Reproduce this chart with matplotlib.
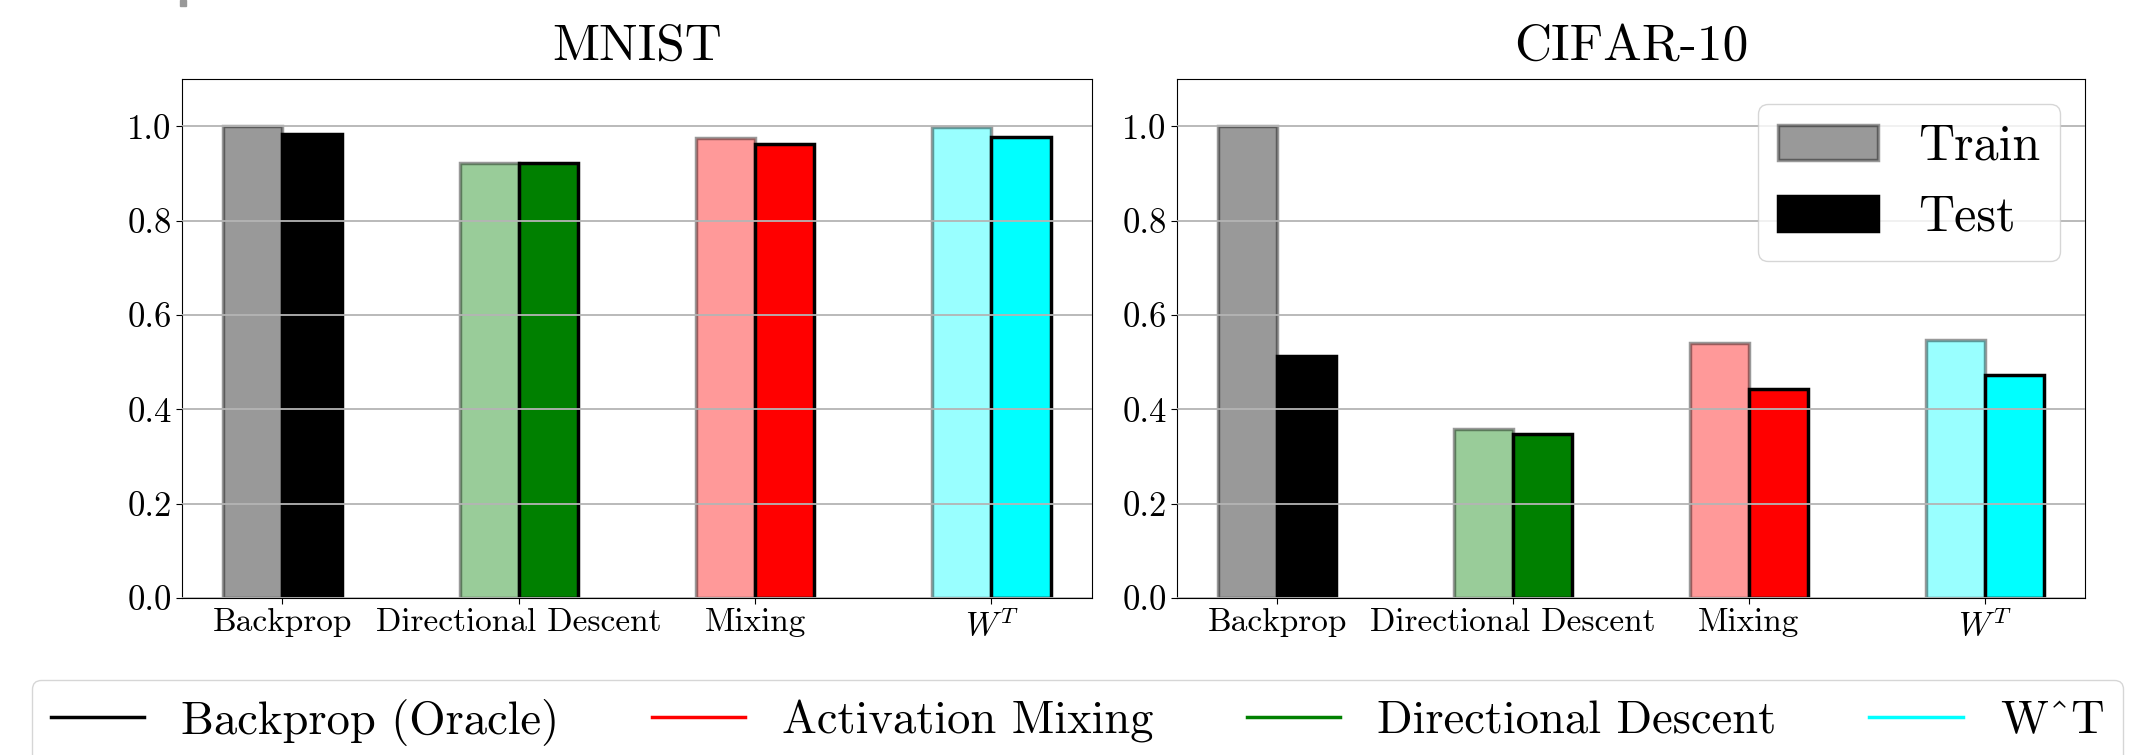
import numpy as np
import matplotlib
matplotlib.use("Agg")
from matplotlib import pyplot as plt
from matplotlib.lines import Line2D
from matplotlib.patches import Patch, Rectangle

plt.rcParams['font.family'] = 'cmr10'
plt.rcParams['mathtext.fontset'] = 'cm'
plt.rcParams['axes.formatter.use_mathtext'] = True

# data
methods = ["Backprop", "Directional Descent", "Mixing", "$W^T$"]
colors = ["black", "green", "red", "cyan"]
mnist_train = [1.000, 0.922, 0.975, 0.998]
mnist_test = [0.984, 0.923, 0.963, 0.977]
cifar_train = [1.000, 0.358, 0.541, 0.547]
cifar_test = [0.513, 0.348, 0.444, 0.472]
legend_labels = ["Backprop (Oracle)", "Activation Mixing", "Directional Descent", "W^T"]
legend_colors = ["black", "red", "green", "cyan"]

fig = plt.figure(figsize=(21.31, 7.55), dpi=100)
ax1 = fig.add_axes([0.0854, 0.2079, 0.4270, 0.6874])
ax2 = fig.add_axes([0.5523, 0.2079, 0.4261, 0.6874])

x = np.arange(len(methods))
w = 0.25

def draw(ax, train, test, title):
    for i in range(len(methods)):
        ax.bar(x[i] - w, train[i], w, align='edge', color=colors[i],
               edgecolor='black', linewidth=2.5, alpha=0.4)
        ax.bar(x[i], test[i], w, align='edge', color=colors[i],
               edgecolor='black', linewidth=2.5)
    ax.set_ylim(0, 1.1)
    ax.set_yticks([0.0, 0.2, 0.4, 0.6, 0.8, 1.0])
    ax.set_yticklabels(["0.0", "0.2", "0.4", "0.6", "0.8", "1.0"])
    ax.set_xticks(x)
    ax.set_xticklabels(methods)
    ax.tick_params(axis='y', labelsize=25, length=4)
    ax.tick_params(axis='x', labelsize=24, length=4)
    ax.yaxis.grid(True, color='#b4b4b4', linewidth=1.3)
    ax.set_axisbelow(False)
    ax.set_title(title, fontsize=37, pad=14)

draw(ax1, mnist_train, mnist_test, "MNIST")
draw(ax2, cifar_train, cifar_test, "CIFAR-10")

handles = [Patch(facecolor='black', edgecolor='black', linewidth=2.5, alpha=0.4),
           Patch(facecolor='black', edgecolor='black', linewidth=2.5)]
ax2.legend(handles, ["Train", "Test"], loc='upper right', fontsize=36,
           bbox_to_anchor=(0.9725, 0.952), borderaxespad=0, labelspacing=0.5)

lines = [Line2D([0], [0], color=c, linewidth=2.5) for c in legend_colors]
fig.legend(lines, legend_labels, loc='upper left', ncol=4, fontsize=33.5,
           bbox_to_anchor=(0.015, 0.0993), borderaxespad=0, columnspacing=2.0)

# small grey mark at top edge of the original image
fig.add_artist(Rectangle((180 / 2131, 1 - 6 / 755), 6 / 2131, 6 / 755,
                         transform=fig.transFigure, color='#999999'))

plt.savefig('out.png', dpi=100)
